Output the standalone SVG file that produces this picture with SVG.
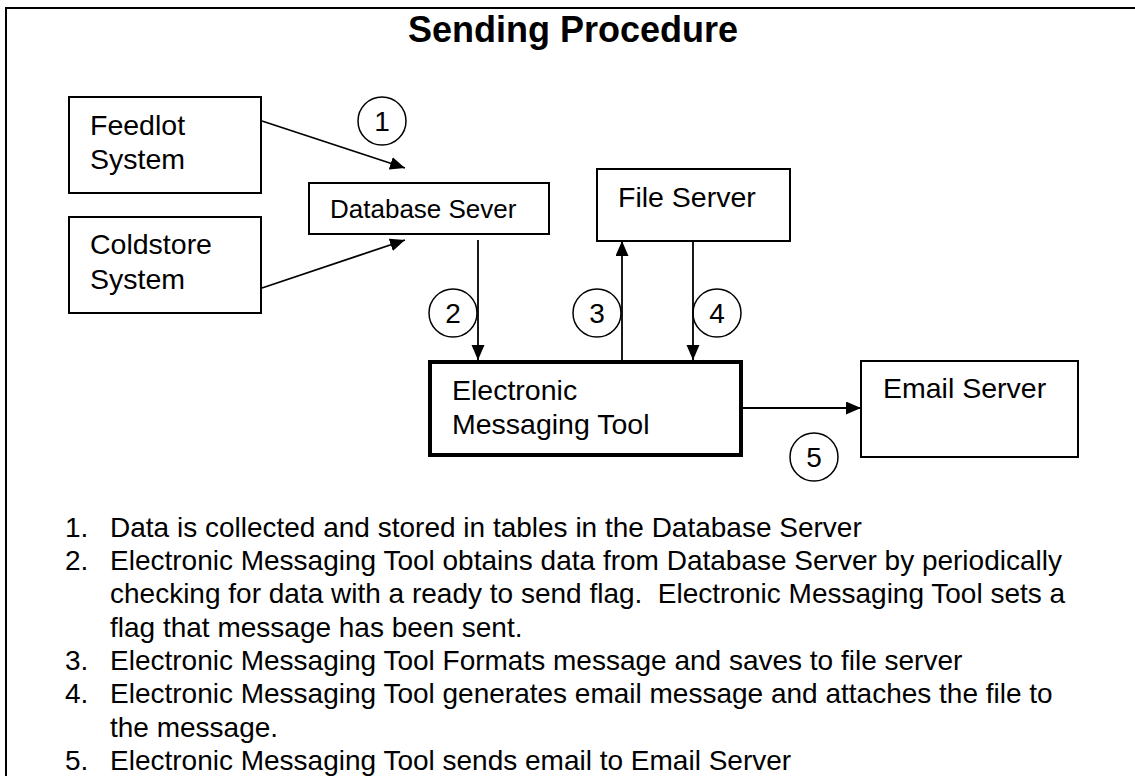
<svg xmlns="http://www.w3.org/2000/svg" width="1135" height="776" viewBox="0 0 1135 776">
<style>
text{font-family:"Liberation Sans",Arial,sans-serif;fill:#000}
.box{fill:#fff;stroke:#000;stroke-width:2}
.thick{fill:#fff;stroke:#000;stroke-width:4}
.lbl{font-size:28.5px}
.num{font-size:28px;text-anchor:middle}
.circ{fill:none;stroke:#000;stroke-width:1.5}
.conn{stroke:#000;stroke-width:1.8;fill:none;marker-end:url(#ah)}
.list{font-size:28px}
</style>
<defs>
<marker id="ah" markerUnits="userSpaceOnUse" markerWidth="16" markerHeight="14" refX="15" refY="6.5" orient="auto">
<path d="M0,0 L15,6.5 L0,13 z" fill="#000"/>
</marker>
</defs>
<rect width="1135" height="776" fill="#fff"/>
<path d="M6,776 V8 H1135" fill="none" stroke="#000" stroke-width="2"/>
<text x="573" y="42" font-size="36" font-weight="bold" text-anchor="middle">Sending Procedure</text>

<g id="connectors">
<line class="conn" x1="262" y1="121" x2="405" y2="168"/>
<line class="conn" x1="262" y1="288" x2="405" y2="240"/>
<line class="conn" x1="478" y1="240" x2="478" y2="360"/>
<line class="conn" x1="622" y1="360" x2="622" y2="241"/>
<line class="conn" x1="693" y1="241" x2="693" y2="360"/>
<line class="conn" x1="743" y1="408" x2="861" y2="408"/>
</g>

<g id="feedlot">
<rect class="box" x="69" y="97" width="192" height="96"/>
<text class="lbl" x="90" y="135">Feedlot</text>
<text class="lbl" x="90" y="169">System</text>
</g>
<g id="coldstore">
<rect class="box" x="69" y="217" width="192" height="96"/>
<text class="lbl" x="90" y="254">Coldstore</text>
<text class="lbl" x="90" y="289">System</text>
</g>
<g id="database">
<rect class="box" x="309" y="183" width="240" height="51"/>
<text x="330" y="218" font-size="26">Database Sever</text>
</g>
<g id="fileserver">
<rect class="box" x="597" y="169" width="193" height="72"/>
<text class="lbl" x="618" y="207">File Server</text>
</g>
<g id="emt">
<rect class="thick" x="430" y="362" width="311" height="93"/>
<text class="lbl" x="452" y="400">Electronic</text>
<text class="lbl" x="452" y="434">Messaging Tool</text>
</g>
<g id="emailserver">
<rect class="box" x="861" y="361" width="217" height="96"/>
<text class="lbl" x="883" y="398">Email Server</text>
</g>

<g id="step1"><circle class="circ" cx="382" cy="121" r="24"/><text class="num" x="382" y="131">1</text></g>
<g id="step2"><circle class="circ" cx="453" cy="313" r="24"/><text class="num" x="453" y="323">2</text></g>
<g id="step3"><circle class="circ" cx="597" cy="313" r="24"/><text class="num" x="597" y="323">3</text></g>
<g id="step4"><circle class="circ" cx="717" cy="313" r="24"/><text class="num" x="717" y="323">4</text></g>
<g id="step5"><circle class="circ" cx="814" cy="457" r="24"/><text class="num" x="814" y="467">5</text></g>

<g id="list" class="list">
<text class="list" x="65" y="537">1.</text>
<text class="list" x="110" y="537">Data is collected and stored in tables in the Database Server</text>
<text class="list" x="65" y="570">2.</text>
<text class="list" x="110" y="570">Electronic Messaging Tool obtains data from Database Server by periodically</text>
<text class="list" x="110" y="603" xml:space="preserve">checking for data with a ready to send flag.  Electronic Messaging Tool sets a</text>
<text class="list" x="110" y="637">flag that message has been sent.</text>
<text class="list" x="65" y="670">3.</text>
<text class="list" x="110" y="670">Electronic Messaging Tool Formats message and saves to file server</text>
<text class="list" x="65" y="703">4.</text>
<text class="list" x="110" y="703">Electronic Messaging Tool generates email message and attaches the file to</text>
<text class="list" x="110" y="737">the message.</text>
<text class="list" x="65" y="770">5.</text>
<text class="list" x="110" y="770">Electronic Messaging Tool sends email to Email Server</text>
</g>
</svg>
